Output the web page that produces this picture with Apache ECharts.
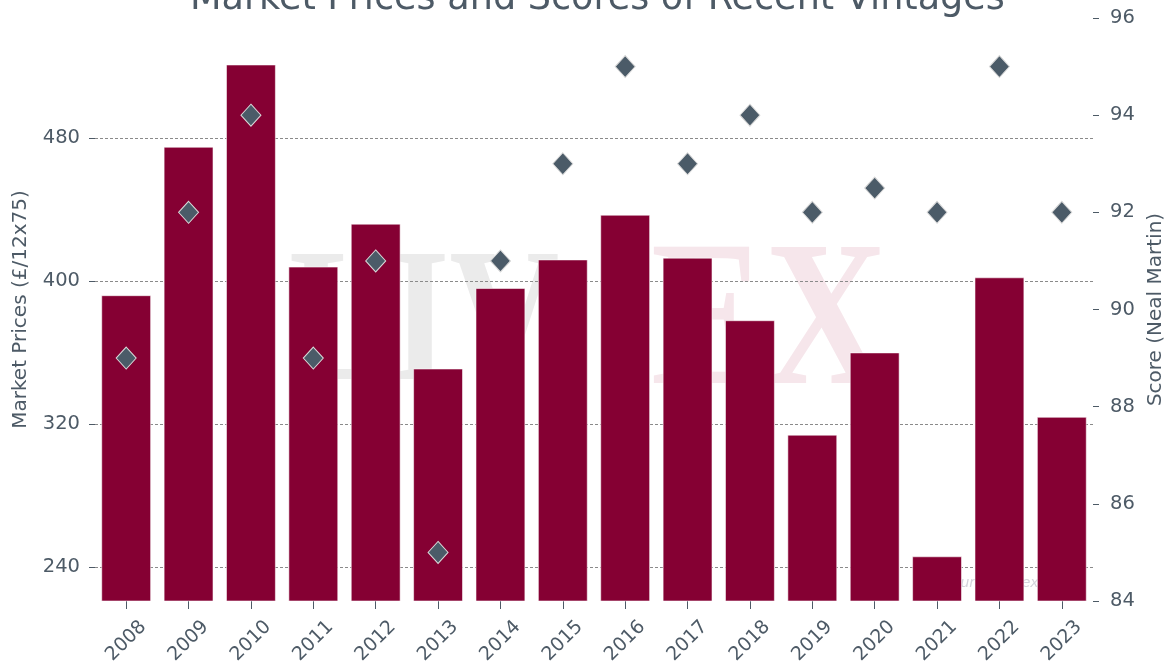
<!DOCTYPE html>
<html>
<head>
<meta charset="utf-8">
<title>Market Prices and Scores of Recent Vintages</title>
<script src="https://cdn.jsdelivr.net/npm/echarts@6/dist/echarts.min.js"></script>
<style>
  html, body { margin: 0; padding: 0; background: #fff; }
  #chart { width: 1170px; height: 668px; }
</style>
</head>
<body>
<div id="chart"></div>
<script>
// Vintage prices (bars, left axis) and Neal Martin scores (diamonds, right axis)
const years = ['2008', '2009', '2010', '2011', '2012', '2013', '2014', '2015',
  '2016', '2017', '2018', '2019', '2020', '2021', '2022', '2023'];
const prices = [392, 475, 521, 408, 432, 351, 396, 412, 437, 413, 378, 314, 360, 246, 402, 324];
const scores = [89, 92, 94, 89, 91, 85, 91, 93, 95, 93, 94, 92, 92.5, 92, 95, 92];
const priceTicks = [240, 320, 400, 480];

const textColor = '#4d5a66';
const font = 'DejaVu Sans';

const chart = echarts.init(document.getElementById('chart'));

chart.setOption({
  animation: false,
  textStyle: { fontFamily: font },
  title: {
    text: 'Market Prices and Scores of Recent Vintages',
    left: 185,
    top: -24,
    textStyle: { color: textColor, fontSize: 36.6, fontWeight: 'normal', fontFamily: font }
  },
  grid: { left: 95, right: 77, top: 18, bottom: 67, outerBoundsMode: 'none', containLabel: false },
  // background watermark
  graphic: [
    {
      type: 'text', z: -1, x: 289, y: 330, scaleX: 0.8,
      style: { text: 'LIV', fill: '#ebebeb', font: 'bold 190px "Liberation Serif"', verticalAlign: 'middle' }
    },
    {
      type: 'text', z: -1, x: 651, y: 329, scaleX: 0.82,
      style: { text: 'EX', fill: '#f6e6eb', font: 'bold 208px "Liberation Serif"', verticalAlign: 'middle' }
    },
    {
      type: 'text', z: -1, x: 943, y: 583,
      style: { text: 'Source: liv-ex.com', fill: '#d4d4dc', font: 'italic 14px "DejaVu Sans"', verticalAlign: 'middle' }
    }
  ],
  xAxis: {
    type: 'category',
    data: years,
    axisLine: { show: false },
    axisTick: { show: true, alignWithLabel: true, length: 8, lineStyle: { color: textColor } },
    axisLabel: {
      rotate: 45, align: 'center', verticalAlign: 'middle', margin: 40,
      color: textColor, fontSize: 19, fontFamily: font
    }
  },
  yAxis: [
    {
      type: 'value',
      min: 221,
      max: 547,
      name: 'Market Prices (£/12x75)',
      nameLocation: 'middle',
      nameRotate: 90,
      nameGap: 64,
      nameTextStyle: { color: textColor, fontSize: 20, fontFamily: font },
      axisLine: { show: false },
      axisTick: { show: true, length: 6, customValues: priceTicks, lineStyle: { color: textColor } },
      axisLabel: { customValues: priceTicks, margin: 15, color: textColor, fontSize: 19.5, fontFamily: font },
      splitLine: { show: true, lineStyle: { color: '#8a8a8a', type: [3, 2], width: 1 } }
    },
    {
      type: 'value',
      min: 84,
      max: 96,
      interval: 2,
      position: 'right',
      name: 'Score (Neal Martin)',
      nameLocation: 'middle',
      nameRotate: 90,
      nameGap: 49,
      nameTextStyle: { color: textColor, fontSize: 20, fontFamily: font },
      axisLine: { show: false },
      axisTick: { show: true, length: 6, lineStyle: { color: textColor } },
      axisLabel: { margin: 17, color: textColor, fontSize: 19.5, fontFamily: font },
      splitLine: { show: false }
    }
  ],
  series: [
    {
      name: 'Market Prices',
      type: 'bar',
      yAxisIndex: 0,
      barWidth: '80%',
      data: prices,
      itemStyle: { color: '#850033', borderColor: 'rgba(255,255,255,0.55)', borderWidth: 1 }
    },
    {
      name: 'Score',
      type: 'scatter',
      yAxisIndex: 1,
      symbol: 'diamond',
      symbolSize: [20, 22],
      data: scores,
      z: 5,
      itemStyle: { color: '#4b5b68', borderColor: '#d9d9d9', borderWidth: 1, opacity: 1 }
    }
  ]
});
</script>
</body>
</html>
